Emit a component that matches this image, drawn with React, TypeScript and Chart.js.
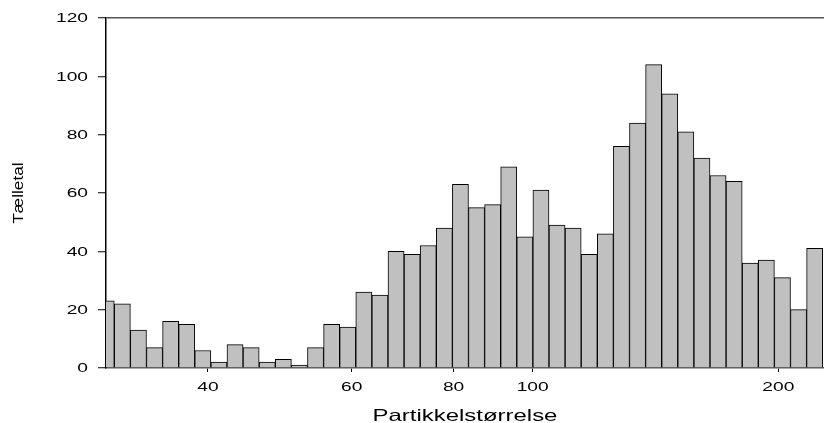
import { useEffect, useRef } from "react";
import { Chart, registerables } from "chart.js";

Chart.register(...registerables);

// Bin centres (log-spaced particle size bins) and counts per bin
const binCenters = [
  30.02, 31.415, 32.875, 34.403, 36.002, 37.675, 39.426, 41.259, 43.176, 45.183,
  47.283, 49.48, 51.78, 54.187, 56.705, 59.341, 62.099, 64.985, 68.005, 71.166,
  74.474, 77.935, 81.557, 85.348, 89.315, 93.466, 97.81, 102.356, 107.113, 112.092,
  117.302, 122.754, 128.459, 134.43, 140.678, 147.216, 154.058, 161.219, 168.712, 176.553,
  184.759, 193.346, 202.333, 211.737, 221.578,
];
const counts = [
  23, 22, 13, 7, 16, 15, 6, 2, 8, 7,
  2, 3, 1, 7, 15, 14, 26, 25, 40, 39,
  42, 48, 63, 55, 56, 69, 45, 61, 49, 48,
  39, 46, 76, 84, 104, 94, 81, 72, 66, 64,
  36, 37, 31, 20, 41,
];
const xTickValues = [40, 60, 80, 100, 200];
const yTickValues = [0, 20, 40, 60, 80, 100, 120];
const xMin = 30;
const xMax = 227.5;
const yMin = 0;
const yMax = 120;
const xTitle = "Partikkelstørrelse";
const yTitle = "Tælletal";

const FONT = "'Liberation Sans', Arial, Helvetica, sans-serif";

function stretchText(
  ctx: CanvasRenderingContext2D,
  text: string,
  x: number,
  y: number,
  sx: number,
  align: CanvasTextAlign,
  baseline: CanvasTextBaseline
) {
  ctx.save();
  ctx.translate(x, y);
  ctx.scale(sx, 1);
  ctx.textAlign = align;
  ctx.textBaseline = baseline;
  ctx.fillText(text, 0, 0);
  ctx.restore();
}

const labelPlugin = {
  id: "stretchedLabels",
  afterDraw(chart: any) {
    const ctx: CanvasRenderingContext2D = chart.ctx;
    const xs = chart.scales.x;
    const ys = chart.scales.y;
    const area = chart.chartArea;
    ctx.save();
    ctx.fillStyle = "#000";
    ctx.font = `12px ${FONT}`;
    ys.ticks.forEach((t: any) => {
      const py = ys.getPixelForValue(t.value);
      stretchText(ctx, String(t.value), 88, py + 1, 1.6, "right", "middle");
    });
    xs.ticks.forEach((t: any) => {
      const px = xs.getPixelForValue(t.value);
      stretchText(ctx, String(t.value), px, 388, 1.6, "center", "middle");
    });
    ctx.font = `16.5px ${FONT}`;
    stretchText(ctx, xTitle, (area.left + area.right) / 2, 421, 1.45, "center", "alphabetic");
    ctx.save();
    ctx.translate(23, (area.top + area.bottom) / 2);
    ctx.rotate(-Math.PI / 2);
    ctx.font = `15px ${FONT}`;
    ctx.textAlign = "center";
    ctx.textBaseline = "alphabetic";
    ctx.scale(1.15, 1);
    ctx.fillText(yTitle, 0, 0);
    ctx.restore();
    ctx.restore();
  },
};

export default function App() {
  const ref = useRef<HTMLCanvasElement | null>(null);
  useEffect(() => {
    if (!ref.current) return;
    const chart = new Chart(ref.current, {
      type: "bar",
      data: {
        datasets: [
          {
            data: binCenters.map((x, i) => ({ x, y: counts[i] })),
            backgroundColor: "#c0c0c0",
            borderColor: "#000",
            borderWidth: 1,
            barPercentage: 1,
            categoryPercentage: 1,
          },
        ],
      },
      options: {
        animation: false,
        responsive: false,
        maintainAspectRatio: false,
        layout: { padding: { left: 98, top: 18, right: 0, bottom: 51 } },
        plugins: { legend: { display: false }, tooltip: { enabled: false } },
        scales: {
          x: {
            type: "logarithmic",
            min: xMin,
            max: xMax,
            offset: false,
            afterBuildTicks: (scale: any) => {
              scale.ticks = xTickValues.map((v) => ({ value: v }));
            },
            ticks: { display: false },
            grid: {
              offset: false,
              drawOnChartArea: false,
              drawTicks: true,
              tickLength: 4,
              tickColor: "#000",
              tickWidth: 1,
            },
            border: { display: true, color: "#555", width: 1.5 },
            title: { display: false },
          },
          y: {
            type: "linear",
            min: yMin,
            max: yMax,
            afterBuildTicks: (scale: any) => {
              scale.ticks = yTickValues.map((v) => ({ value: v }));
            },
            ticks: { display: false },
            grid: {
              drawOnChartArea: true,
              drawTicks: true,
              tickLength: 8,
              color: (c: any) => (c.tick && c.tick.value === yMax ? "#555" : "rgba(0,0,0,0)"),
              tickColor: "#000",
              lineWidth: 1.5,
              tickWidth: 1,
            },
            border: { display: true, color: "#000", width: 1.5 },
            title: { display: false },
          },
        },
      },
      plugins: [labelPlugin],
    });
    return () => chart.destroy();
  }, []);
  return (
    <div style={{ position: "fixed", left: 0, top: 0, width: 824, height: 423, background: "#fff" }}>
      <canvas ref={ref} width={824} height={423} style={{ display: "block" }} />
    </div>
  );
}
